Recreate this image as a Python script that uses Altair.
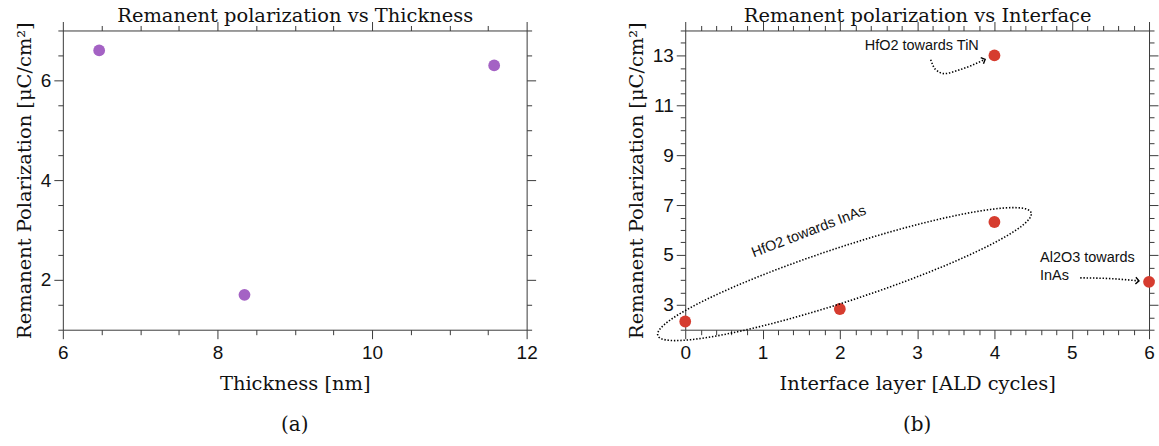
import altair as alt
import pandas as pd
import numpy as np

# ---------------- data ----------------
thickness_nm = [6.47, 8.35, 11.58]
pr_thickness = [6.6, 1.7, 6.3]

ald_cycles = [0, 2, 4, 6, 4]
pr_interface = [2.33, 2.83, 6.32, 3.92, 13.0]

# ---------------- ticks ----------------
a_x_labels = [6, 8, 10, 12]
a_x_ticks = [6, 6.5, 7, 7.5, 8, 8.5, 9, 9.5, 10, 10.5, 11, 11.5, 12]
a_y_labels = [2, 4, 6]
a_y_ticks = [1, 1.5, 2, 2.5, 3, 3.5, 4, 4.5, 5, 5.5, 6, 6.5, 7]
b_x_labels = [0, 1, 2, 3, 4, 5, 6]
b_x_ticks = [round(0.2 * i, 1) for i in range(31)]
b_y_labels = [3, 5, 7, 9, 11, 13]
b_y_ticks = [round(2 + 0.5 * i, 1) for i in range(25)]

# ---------------- annotations (panel b) ----------------
tin_text, tin_tx, tin_ty = ["HfO2 towards TiN"], [3.06], [13.36]
al_text, al_tx, al_ty = ["Al2O3 towards", "InAs"], [4.59, 4.59], [4.87, 4.16]

rot_text = ["HfO2 towards InAs"]
rot_x = [1.60]
rot_y = [5.92]

tin_arrow_x = [3.175, 3.234, 3.355, 3.526, 3.697, 3.870]
tin_arrow_y = [12.83, 12.45, 12.27, 12.40, 12.59, 12.83]
al_arrow_x = [5.11, 5.50, 5.86]
al_arrow_y = [4.08, 4.05, 3.96]
head_x = [3.88, 5.87]
head_y = [12.84, 3.96]
head_angle = [336, 4]

ell_cx, ell_cy = 2.06, 4.23
ell_a_px, ell_b_px, ell_rot_deg = 197, 27, 18.2

# ---------------- layout ----------------
W_A, W_B, H = 465, 465, 300
A_DOM_X, A_DOM_Y = [6, 12], [1, 7]
B_DOM_X, B_DOM_Y = [0, 6], [2, 14]

SERIF = "DejaVu Serif"
SANS = "Liberation Sans"
INK = "#3a3a3a"
PURPLE = "#a462c4"
RED = "#d63c2f"
TITLE_SIZE = 19.5


def major_test(labels):
    return " || ".join(f"abs(datum.value - {v}) < 1e-6" for v in labels)


def axis(orient, ticks, labels, title=None, show_labels=True, title_pad=6, label_pad=4):
    t = major_test(labels)
    return alt.Axis(
        orient=orient,
        values=ticks,
        tickSize={"condition": {"test": t, "value": 9}, "value": 5},
        labelExpr=f"({t}) ? format(datum.value, 'd') : ''",
        labels=show_labels,
        grid=False,
        domainColor=INK,
        tickColor=INK,
        domainWidth=1,
        tickWidth=1,
        labelFont=SANS,
        labelFontSize=19,
        labelColor="#111111",
        labelPadding=label_pad,
        labelOverlap=False,
        labelFlush=False,
        labelBound=False,
        titleFont=SERIF,
        titleFontSize=TITLE_SIZE,
        titleFontWeight="normal",
        titleColor="#111111",
        titlePadding=title_pad,
        title=title if title is not None else "",
    )


def panel(df, xf, yf, xdom, ydom, xt, xl, yt, yl, xtitle, top_title, color, width, extra=None, caption=""):
    xs = alt.Scale(domain=xdom, nice=False, zero=False)
    ys = alt.Scale(domain=ydom, nice=False, zero=False)
    main = alt.Chart(df).mark_circle(size=140, opacity=1, color=color).encode(
        x=alt.X(f"{xf}:Q", scale=xs,
                axis=axis("bottom", xt, xl, xtitle, title_pad=12, label_pad=5)),
        y=alt.Y(f"{yf}:Q", scale=ys,
                axis=axis("left", yt, yl, "Remanent Polarization [μC/cm²]", title_pad=6, label_pad=3)),
    )
    mirror = alt.Chart(df).mark_circle(size=1, opacity=0).encode(
        x=alt.X(f"{xf}:Q", scale=xs,
                axis=axis("top", xt, xl, top_title, show_labels=False, title_pad=-4)),
        y=alt.Y(f"{yf}:Q", scale=ys,
                axis=axis("right", yt, yl, None, show_labels=False)),
    )
    layers = [main, mirror]
    if extra:
        layers += [e(xs, ys) for e in extra]
    return alt.layer(*layers).resolve_axis(x="independent", y="independent").properties(
        width=width, height=H,
        title=alt.TitleParams(caption, orient="bottom", anchor="middle", frame="group",
                              font=SERIF, fontSize=20, fontWeight="normal", color="#111111", offset=22),
    )


df_a = pd.DataFrame({"thickness": thickness_nm, "pr": pr_thickness})
df_b = pd.DataFrame({"cycles": ald_cycles, "pr": pr_interface})

# ellipse outline (annotation shape) built from its centre / semi-axes in pixels
sx = W_B / (B_DOM_X[1] - B_DOM_X[0])
sy = H / (B_DOM_Y[1] - B_DOM_Y[0])
t = np.linspace(0, 2 * np.pi, 181)
th = np.deg2rad(ell_rot_deg)
px = ell_a_px * np.cos(t) * np.cos(th) - ell_b_px * np.sin(t) * np.sin(th)
py = ell_a_px * np.cos(t) * np.sin(th) + ell_b_px * np.sin(t) * np.cos(th)
df_ell = pd.DataFrame({"x": ell_cx + px / sx, "y": ell_cy + py / sy, "o": np.arange(len(t))})

df_tin_t = pd.DataFrame({"x": tin_tx, "y": tin_ty, "text": tin_text})
df_al_t = pd.DataFrame({"x": al_tx, "y": al_ty, "text": al_text})
df_rot = pd.DataFrame({"x": rot_x, "y": rot_y, "text": rot_text})
df_tin = pd.DataFrame({"x": tin_arrow_x, "y": tin_arrow_y, "o": range(len(tin_arrow_x))})
df_al = pd.DataFrame({"x": al_arrow_x, "y": al_arrow_y, "o": range(len(al_arrow_x))})
df_head = pd.DataFrame({"x": head_x, "y": head_y, "angle": head_angle})

DOT = [1.4, 1.8]


def xy(xs, ys):
    return dict(x=alt.X("x:Q", scale=xs, axis=None), y=alt.Y("y:Q", scale=ys, axis=None))


def ellipse_layer(xs, ys):
    return alt.Chart(df_ell).mark_line(color="black", strokeWidth=1.6, strokeDash=DOT).encode(
        order="o:Q", **xy(xs, ys))


def tin_layer(xs, ys):
    return alt.Chart(df_tin).mark_line(color="black", strokeWidth=1.6, strokeDash=DOT,
                                        interpolate="monotone").encode(order="o:Q", **xy(xs, ys))


def al_layer(xs, ys):
    return alt.Chart(df_al).mark_line(color="black", strokeWidth=1.6, strokeDash=DOT,
                                       interpolate="monotone").encode(order="o:Q", **xy(xs, ys))


def head_layer(xs, ys):
    return alt.Chart(df_head).mark_point(shape="M -1 -1 L 0 0 L -1 1", size=45, filled=False,
                                          color="black", strokeWidth=1.4, opacity=1).encode(
        angle=alt.Angle("angle:Q", scale=None), **xy(xs, ys))


def tin_text_layer(xs, ys):
    return alt.Chart(df_tin_t).mark_text(font=SANS, fontSize=14.5, color="#111111",
                                          baseline="middle", align="center").encode(
        text="text:N", **xy(xs, ys))


def al_text_layer(xs, ys):
    return alt.Chart(df_al_t).mark_text(font=SANS, fontSize=14.5, color="#111111",
                                         baseline="middle", align="left").encode(
        text="text:N", **xy(xs, ys))


def rot_layer(xs, ys):
    return alt.Chart(df_rot).mark_text(font=SANS, fontSize=14.5, color="#111111", baseline="middle",
                                        align="center", angle=339).encode(text="text:N", **xy(xs, ys))


left = panel(df_a, "thickness", "pr", A_DOM_X, A_DOM_Y, a_x_ticks, a_x_labels, a_y_ticks, a_y_labels,
             "Thickness [nm]", "Remanent polarization vs Thickness", PURPLE, W_A, caption="(a)")
right = panel(df_b, "cycles", "pr", B_DOM_X, B_DOM_Y, b_x_ticks, b_x_labels, b_y_ticks, b_y_labels,
              "Interface layer [ALD cycles]", "Remanent polarization vs Interface", RED, W_B,
              extra=[ellipse_layer, tin_layer, al_layer, head_layer, tin_text_layer, al_text_layer,
                     rot_layer], caption="(b)")

chart = alt.hconcat(left, right, spacing=88).properties(
    padding={"left": 14, "top": 4, "right": 0, "bottom": 0},
    background="white",
).configure_view(stroke=None)

chart.save("out.html", embed_options={"renderer": "svg", "actions": False})
